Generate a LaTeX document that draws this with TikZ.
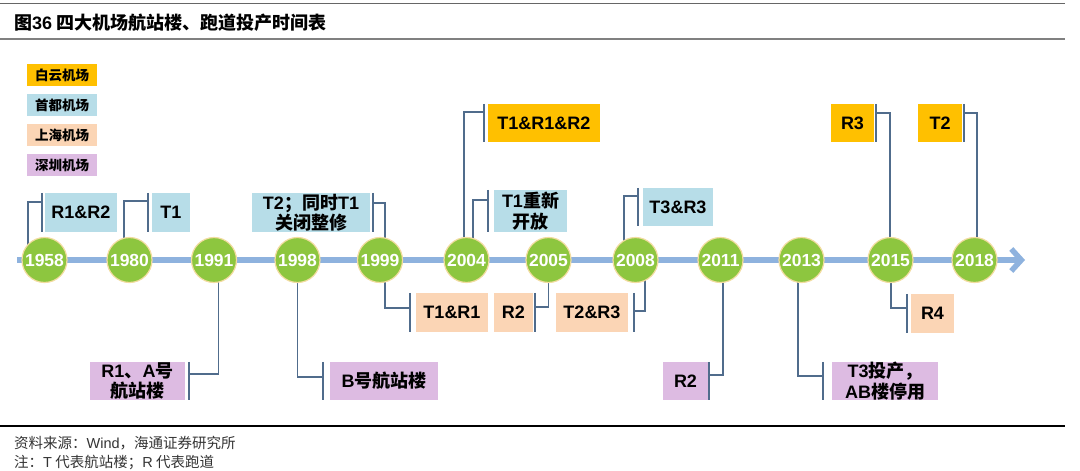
\documentclass[tikz,border=0pt]{standalone}
\usepackage{fontspec}
\setmainfont{Noto Sans CJK SC}
\newfontfamily\lat{Liberation Sans}
\usetikzlibrary{arrows.meta,calc,backgrounds}
\definecolor{cOrange}{RGB}{255,192,0}
\definecolor{cSky}{RGB}{183,221,232}
\definecolor{cPeach}{RGB}{251,213,181}
\definecolor{cLilac}{RGB}{221,187,226}
\definecolor{cGreen}{RGB}{141,198,63}
\definecolor{cRing}{RGB}{242,220,160}
\definecolor{cBar}{RGB}{142,178,222}
\definecolor{cConn}{RGB}{80,108,140}
\begin{document}
\begin{tikzpicture}[x=1pt,y=-1pt,
  yearnode/.style={circle, fill=cGreen, draw=cRing, line width=1.2pt, minimum size=45pt, inner sep=0pt, text=white, font=\lat\bfseries\fontsize{17.5}{17.5}\selectfont},
  box/.style={inner sep=0pt, align=center, font=\bfseries\fontsize{18}{20.5}\selectfont, text=black},
  legend/.style={inner sep=0pt, minimum width=70pt, minimum height=22pt, font=\bfseries\fontsize{13.5}{14}\selectfont},
  conn/.style={draw=cConn, line width=1.8pt},
  bar/.style={draw=cBar, line width=5.5pt, -{Straight Barb[length=10pt,width=22pt]}},
  note/.style={anchor=west, inner sep=0pt, text=black!80, font=\fontsize{14.5}{15}\selectfont}]
\useasboundingbox (0,0) rectangle (1080,471);

% header and footer rules
\coordinate (r1a) at (0,3.3);   \coordinate (r1b) at (1065,3.3);
\coordinate (r2a) at (0,39);    \coordinate (r2b) at (1065,39);
\coordinate (r3a) at (0,426);   \coordinate (r3b) at (1065,426);
\draw[black!60, line width=1.2pt] (r1a) -- (r1b);
\draw[black!50, line width=1.5pt] (r2a) -- (r2b);
\draw[black, line width=1.4pt] (r3a) -- (r3b);
\node[anchor=west, inner sep=0pt, font=\bfseries\fontsize{18}{18}\selectfont] (title) at (14,22.5) {图{\lat 36} 四大机场航站楼、跑道投产时间表};
\node[note] (src) at (14,443) {资料来源：{\lat Wind}，海通证券研究所};
\node[note] (nt) at (14,462) {注：{\lat T} 代表航站楼；{\lat R} 代表跑道};

% legend
\node[legend, fill=cOrange] (l1) at (62,75) {白云机场};
\node[legend, fill=cSky] (l2) at (62,105) {首都机场};
\node[legend, fill=cPeach] (l3) at (62,135) {上海机场};
\node[legend, fill=cLilac] (l4) at (62,165) {深圳机场};

% year circles
\node[yearnode] (y1958) at (44.5,260) {1958};
\node[yearnode] (y1980) at (129.5,260) {1980};
\node[yearnode] (y1991) at (214,260) {1991};
\node[yearnode] (y1998) at (297.5,260) {1998};
\node[yearnode] (y1999) at (380,260) {1999};
\node[yearnode] (y2004) at (466.5,260) {2004};
\node[yearnode] (y2005) at (548.5,260) {2005};
\node[yearnode] (y2008) at (635.5,260) {2008};
\node[yearnode] (y2011) at (720.5,260) {2011};
\node[yearnode] (y2013) at (801.5,260) {2013};
\node[yearnode] (y2015) at (890.5,260) {2015};
\node[yearnode] (y2018) at (974.5,260) {2018};

% event boxes
\node[box, fill=cSky, minimum width=72pt, minimum height=39pt] (b1) at (81,212.5) {\lat R1\&R2};
\node[box, fill=cSky, minimum width=38pt, minimum height=39pt] (b2) at (171,212.5) {\lat T1};
\node[box, fill=cSky, minimum width=118pt, minimum height=39pt] (b3) at (311,212.5) {{\lat T2}；同时{\lat T1}\\关闭整修};
\node[box, fill=cLilac, minimum width=95pt, minimum height=38pt] (b4) at (137.5,381) {{\lat R1}、{\lat A}号\\航站楼};
\node[box, fill=cLilac, minimum width=108pt, minimum height=38pt] (b5) at (384,381) {{\lat B}号航站楼};
\node[box, fill=cPeach, minimum width=72pt, minimum height=39pt] (b6) at (452,312.5) {\lat T1\&R1};
\node[box, fill=cOrange, minimum width=112pt, minimum height=38pt] (b7) at (544,123) {\lat T1\&R1\&R2};
\node[box, fill=cSky, minimum width=73pt, minimum height=42pt] (b8) at (530.5,211) {{\lat T1}重新\\开放};
\node[box, fill=cPeach, minimum width=39pt, minimum height=39pt] (b9) at (513.5,312.5) {\lat R2};
\node[box, fill=cPeach, minimum width=72pt, minimum height=39pt] (b10) at (592,312.5) {\lat T2\&R3};
\node[box, fill=cSky, minimum width=70pt, minimum height=38pt] (b11) at (678,207) {\lat T3\&R3};
\node[box, fill=cLilac, minimum width=45pt, minimum height=38pt] (b12) at (685.5,381) {\lat R2};
\node[box, fill=cLilac, minimum width=106pt, minimum height=38pt] (b13) at (885,381) {{\lat T3}投产，\\{\lat AB}楼停用};
\node[box, fill=cPeach, minimum width=43pt, minimum height=39pt] (b14) at (932.5,313.5) {\lat R4};
\node[box, fill=cOrange, minimum width=43pt, minimum height=38pt] (b15) at (852.5,123) {\lat R3};
\node[box, fill=cOrange, minimum width=44pt, minimum height=38pt] (b16) at (940,123) {\lat T2};

% elbow points of the connectors
\coordinate (k1) at (42,202);
\coordinate (k2) at (148,201);
\coordinate (k3) at (373,203);
\coordinate (k4) at (189,374);
\coordinate (k5) at (323,377);
\coordinate (k6) at (410,308);
\coordinate (k7) at (484,112);
\coordinate (k8) at (488,200);
\coordinate (k9) at (535,307);
\coordinate (k10) at (634,311);
\coordinate (k11) at (638,196);
\coordinate (k12) at (709,375);
\coordinate (k13) at (823,376);
\coordinate (k14) at (907,308);
\coordinate (k15) at (876,113);
\coordinate (k16) at (964,113);

\begin{scope}[on background layer]
  \coordinate (tl) at (17,260);
  \coordinate (tr) at (1025,260);
  \draw[bar] (tl) -- (tr);
  % connectors from circles to brackets
  \draw[conn] ($(y1958)+(-16.5,0)$) |- (k1);
  \draw[conn] ($(y1980)+(-5.5,0)$) |- (k2);
  \draw[conn] ($(y1999)+(5,0)$) |- (k3);
  \draw[conn] ($(y1991)+(4.5,0)$) |- (k4);
  \draw[conn] ($(y1998)+(0,0)$) |- (k5);
  \draw[conn] ($(y1999)+(5,0)$) |- (k6);
  \draw[conn] ($(y2004)+(-2.5,0)$) |- (k7);
  \draw[conn] ($(y2004)+(6.5,0)$) |- (k8);
  \draw[conn] ($(y2005)+(0,0)$) |- (k9);
  \draw[conn] ($(y2008)+(9.5,0)$) |- (k10);
  \draw[conn] ($(y2008)+(-11.5,0)$) |- (k11);
  \draw[conn] ($(y2011)+(2.5,0)$) |- (k12);
  \draw[conn] ($(y2013)+(-3.5,0)$) |- (k13);
  \draw[conn] ($(y2015)+(0.5,0)$) |- (k14);
  \draw[conn] ($(y2015)+(-0.5,0)$) |- (k15);
  \draw[conn] ($(y2018)+(2.5,0)$) |- (k16);
\end{scope}

% brackets beside the boxes
\draw[conn] ([xshift=-3pt]b1.north west) -- ([xshift=-3pt]b1.south west);
\draw[conn] ([xshift=-4pt]b2.north west) -- ([xshift=-4pt]b2.south west);
\draw[conn] ([xshift=3pt]b3.north east) -- ([xshift=3pt]b3.south east);
\draw[conn] ([xshift=4pt]b4.north east) -- ([xshift=4pt]b4.south east);
\draw[conn] ([xshift=-7pt]b5.north west) -- ([xshift=-7pt]b5.south west);
\draw[conn] ([xshift=-6pt]b6.north west) -- ([xshift=-6pt]b6.south west);
\draw[conn] ([xshift=-4pt]b7.north west) -- ([xshift=-4pt]b7.south west);
\draw[conn] ([xshift=-6pt]b8.north west) -- ([xshift=-6pt]b8.south west);
\draw[conn] ([xshift=2pt]b9.north east) -- ([xshift=2pt]b9.south east);
\draw[conn] ([xshift=6pt]b10.north east) -- ([xshift=6pt]b10.south east);
\draw[conn] ([xshift=-5pt]b11.north west) -- ([xshift=-5pt]b11.south west);
\draw[conn] ([xshift=1pt]b12.north east) -- ([xshift=1pt]b12.south east);
\draw[conn] ([xshift=-9pt]b13.north west) -- ([xshift=-9pt]b13.south west);
\draw[conn] ([xshift=-4pt]b14.north west) -- ([xshift=-4pt]b14.south west);
\draw[conn] ([xshift=2pt]b15.north east) -- ([xshift=2pt]b15.south east);
\draw[conn] ([xshift=2pt]b16.north east) -- ([xshift=2pt]b16.south east);
\end{tikzpicture}
\end{document}
